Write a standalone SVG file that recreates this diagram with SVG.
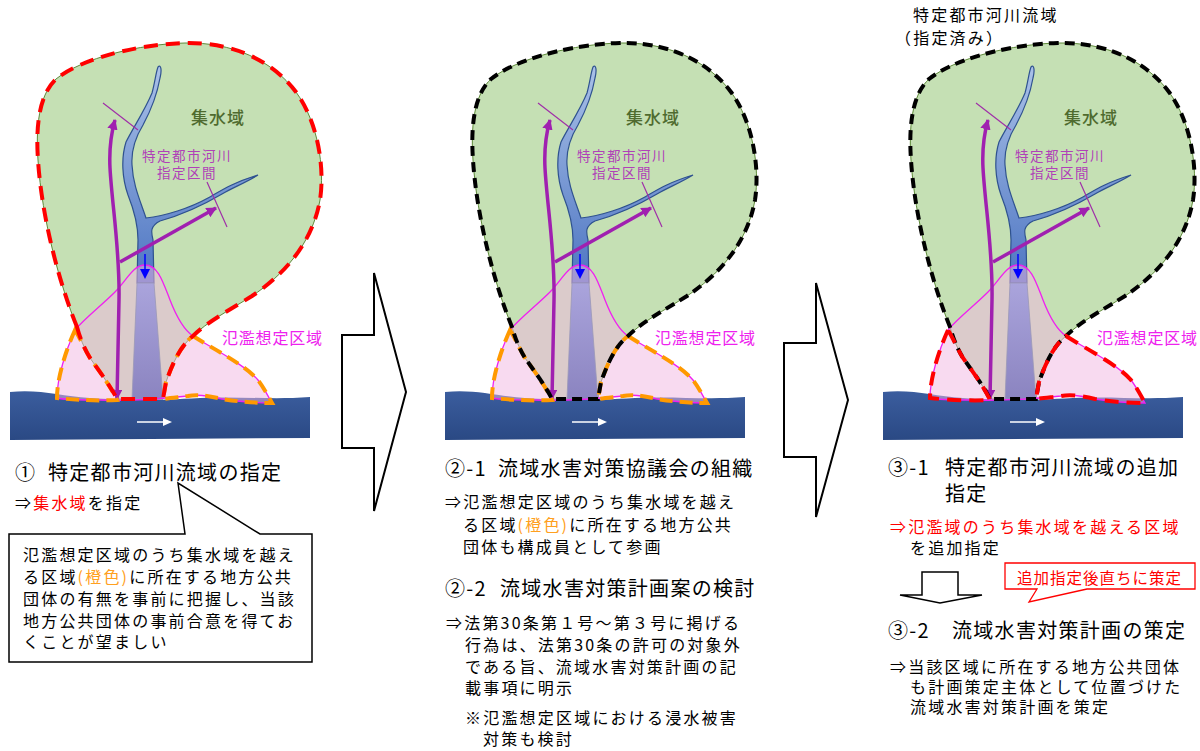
<svg xmlns="http://www.w3.org/2000/svg" xmlns:xlink="http://www.w3.org/1999/xlink" width="1200" height="751" viewBox="0 0 1200 751">
<style>
text{font-family:"Noto Sans CJK JP","Noto Sans CJK SC",sans-serif;fill:#000}
.h{font-size:20px;letter-spacing:1.3px}
.b{font-size:16px;letter-spacing:2.2px}
.red{fill:#ff0000}
.org{fill:#ffa020}
.lbl-c{font-size:17px;fill:#4f6b2f;letter-spacing:1px;font-weight:500}
.lbl-r{font-size:13.5px;fill:#b040b8;letter-spacing:1.5px}
.lbl-f{font-size:16px;fill:#ee22ee;letter-spacing:0.8px}
.dRed{fill:none;stroke:#ff0000;stroke-width:4;stroke-dasharray:14 8}
.dOrg{fill:none;stroke:#ff9900;stroke-width:4;stroke-dasharray:13 7}
.dBlk{fill:none;stroke:#000;stroke-width:4;stroke-dasharray:10 6}
.big{fill:#fff;stroke:#000;stroke-width:2}
</style>
<defs>
<linearGradient id="gSea" x1="0" y1="0" x2="0" y2="1"><stop offset="0" stop-color="#3b5d9e"/><stop offset="1" stop-color="#2a4984"/></linearGradient>
<linearGradient id="gStem" x1="0" y1="0" x2="0" y2="1"><stop offset="0" stop-color="#aac1e8"/><stop offset="1" stop-color="#4d75c2"/></linearGradient>
<linearGradient id="gTrunk" x1="0" y1="0" x2="0" y2="1"><stop offset="0" stop-color="#aaa4dc"/><stop offset="1" stop-color="#8b84c0"/></linearGradient>
<marker id="mP" viewBox="0 0 10 10" refX="9" refY="5" markerWidth="3" markerHeight="3" orient="auto-start-reverse" markerUnits="strokeWidth"><path d="M0,0 L10,5 L0,10 Z" fill="#a020b0"/></marker>
<path id="catch" d="M77,327 C60,285 42,220 38,160 C35,118 42,92 56,79 C82,58 140,44 185,43 C232,42 272,60 296,92 C318,122 325,168 320,200 C312,245 282,276 252,296 C228,311 207,322 193,336 C180,346 172,365 166,382 L163,399 L117,399 C110,385 97,368 90,358 C84,348 80,338 77,327 Z"/>
<path id="flood" d="M57,398 C57,378 66,350 75,330 C85,318 102,305 115,292 C127,280 133,265 145,265 C158,265 163,282 170,300 C177,318 184,330 193,336 C215,350 245,365 258,380 C264,388 268,396 272,403 C250,403 235,401 222,399 C210,396 198,394 188,396 C160,399 130,401 100,400 C80,400 65,400 57,398 Z"/>
<path id="lobeL" d="M75,330 C66,350 57,378 57,398 C75,400 100,401 117,400 C110,385 97,368 90,358 C84,348 80,338 75,330 Z"/>
<path id="lobeR" d="M193,336 C215,350 245,365 258,380 C264,388 268,396 272,403 C250,403 235,401 222,399 C210,396 198,394 188,396 C180,397 170,398 163,399 L166,382 C172,365 180,346 193,336 Z"/>
<g id="scene">
<path d="M10,392 C40,389 60,396 90,398 C120,400 150,401 200,398 C240,396 270,400 310,397 L310,438 L10,440 Z" fill="url(#gSea)"/>
<path d="M137,422 L165,422" stroke="#fff" stroke-width="1.5"/>
<path d="M163,418 L172,422 L163,426 Z" fill="#fff"/>
<use href="#catch" fill="#c5e0b4" stroke="#5f8a3a" stroke-width="1"/>
<path d="M158,67 C161,64 162,70 160,78 C157,95 150,112 143,125 C135,138 131,150 132,165 C133,185 140,200 146,218 C165,216 190,208 208,198 C222,190 232,183 258,175 C245,183 232,188 222,194 C205,204 185,214 160,221 C150,226 151,232 153,240 L154,283 L137,283 L138,240 C138,225 134,210 128,195 C122,178 121,158 126,142 C133,128 145,110 152,93 C155,82 156,72 158,67 Z" fill="url(#gStem)" stroke="#2f528f" stroke-width="1.2"/>
<use href="#flood" fill="#f1b5e1" fill-opacity="0.5" stroke="none"/>
<path d="M137,283 L154,283 L163,399 L132,399 Z" fill="url(#gTrunk)" stroke="#9a98b8" stroke-width="0.8"/>
<use href="#flood" fill="none" stroke="#f020f0" stroke-width="1.3"/>
<path d="M103,103 L138,130 M207,182 L227,227" stroke="#a030a8" stroke-width="1.2"/>
<path d="M117,399 L119,300 C120,250 112,205 110,168 C109,148 111,134 115,120" fill="none" stroke="#a020b0" stroke-width="3.5" marker-start="url(#mP)" marker-end="url(#mP)"/>
<path d="M120,262 L216,208" fill="none" stroke="#a020b0" stroke-width="3.5" marker-end="url(#mP)"/>
<path d="M145,254 L145,271" stroke="#0000ff" stroke-width="1.5"/>
<path d="M140,269 L150,269 L145,279 Z" fill="#0000ff"/>
</g>
</defs>

<g id="arrows">
<path class="big" d="M342,335 L374,335 L374,273 L406,392 L374,511 L374,448 L342,448 Z"/>
<path class="big" d="M784,343 L816,343 L816,283 L848,400 L816,517 L816,457 L784,457 Z"/>
</g>

<g id="panel1">
<use href="#scene"/>
<use href="#lobeL" class="dOrg"/>
<use href="#lobeR" class="dOrg"/>
<use href="#catch" class="dRed"/>
<text class="lbl-c" x="218" y="124" text-anchor="middle">集水域</text>
<text class="lbl-r" x="187" y="161" text-anchor="middle">特定都市河川</text>
<text class="lbl-r" x="187" y="178" text-anchor="middle">指定区間</text>
<text class="lbl-f" x="222" y="344">氾濫想定区域</text>
</g>

<g id="panel2" transform="translate(435,0)">
<use href="#scene"/>
<use href="#lobeL" class="dOrg"/>
<use href="#lobeR" class="dOrg"/>
<use href="#catch" class="dBlk"/>
<text class="lbl-c" x="218" y="124" text-anchor="middle">集水域</text>
<text class="lbl-r" x="187" y="161" text-anchor="middle">特定都市河川</text>
<text class="lbl-r" x="187" y="178" text-anchor="middle">指定区間</text>
<text class="lbl-f" x="220" y="344">氾濫想定区域</text>
</g>

<g id="panel3" transform="translate(873,0)">
<use href="#scene"/>
<use href="#catch" class="dBlk"/>
<use href="#lobeL" class="dRed"/>
<use href="#lobeR" class="dRed"/>
<text class="lbl-c" x="218" y="124" text-anchor="middle">集水域</text>
<text class="lbl-r" x="187" y="161" text-anchor="middle">特定都市河川</text>
<text class="lbl-r" x="187" y="178" text-anchor="middle">指定区間</text>
<text class="lbl-f" x="224" y="344">氾濫想定区域</text>
</g>

<g id="text1">
<text class="h" x="15" y="480">①<tspan x="48">特定都市河川流域の指定</tspan></text>
<text class="b" x="15" y="509">⇒<tspan class="red">集水域</tspan>を指定</text>
<path d="M9,534 L185,534 L178,483 L260,534 L312,534 L312,662 L9,662 Z" fill="#fff" stroke="#000" stroke-width="1.5"/>
<text class="b" x="23" y="561">氾濫想定区域のうち集水域を越え</text>
<text class="b" x="23" y="583">る区域<tspan class="org">(橙色)</tspan>に所在する地方公共</text>
<text class="b" x="23" y="605">団体の有無を事前に把握し、当該</text>
<text class="b" x="23" y="627">地方公共団体の事前合意を得てお</text>
<text class="b" x="23" y="648">くことが望ましい</text>
</g>

<g id="text2">
<text class="h" x="445" y="476">②-1<tspan x="498">流域水害対策協議会の組織</tspan></text>
<text class="b" x="445" y="508">⇒氾濫想定区域のうち集水域を越え</text>
<text class="b" x="463" y="531">る区域<tspan class="org">(橙色)</tspan>に所在する地方公共</text>
<text class="b" x="463" y="553">団体も構成員として参画</text>
<text class="h" x="445" y="596">②-2<tspan x="500">流域水害対策計画案の検討</tspan></text>
<text class="b" x="446" y="629">⇒法第30条第１号～第３号に掲げる</text>
<text class="b" x="465" y="651">行為は、法第30条の許可の対象外</text>
<text class="b" x="465" y="673">である旨、流域水害対策計画の記</text>
<text class="b" x="465" y="694">載事項に明示</text>
<text class="b" x="465" y="724">※氾濫想定区域における浸水被害</text>
<text class="b" x="483" y="745">対策も検討</text>
</g>

<g id="text3">
<text class="b" x="913" y="21">特定都市河川流域</text>
<text class="b" x="895" y="44">（指定済み）</text>
<text class="h" x="888" y="475">③-1<tspan x="945">特定都市河川流域の追加</tspan></text>
<text class="h" x="945" y="501">指定</text>
<text class="b red" x="890" y="533">⇒氾濫域のうち集水域を越える区域</text>
<text class="b" x="910" y="554">を追加指定</text>
<path d="M922,572 L958,572 L958,595 L982,595 L940,603 L900,595 L922,595 Z" fill="#fff" stroke="#000" stroke-width="1.5"/>
<path d="M1005,563 L1195,563 L1195,589 L1087,589 L1029,602 L1037,589 L1005,589 Z" fill="#fff" stroke="#ff0000" stroke-width="1.3"/>
<text class="b red" x="1017" y="584" style="font-size:15.5px;letter-spacing:1px">追加指定後直ちに策定</text>
<text class="h" x="888" y="638">③-2<tspan x="952">流域水害対策計画の策定</tspan></text>
<text class="b" x="890" y="673">⇒当該区域に所在する地方公共団体</text>
<text class="b" x="910" y="693">も計画策定主体として位置づけた</text>
<text class="b" x="910" y="713">流域水害対策計画を策定</text>
</g>
</svg>
